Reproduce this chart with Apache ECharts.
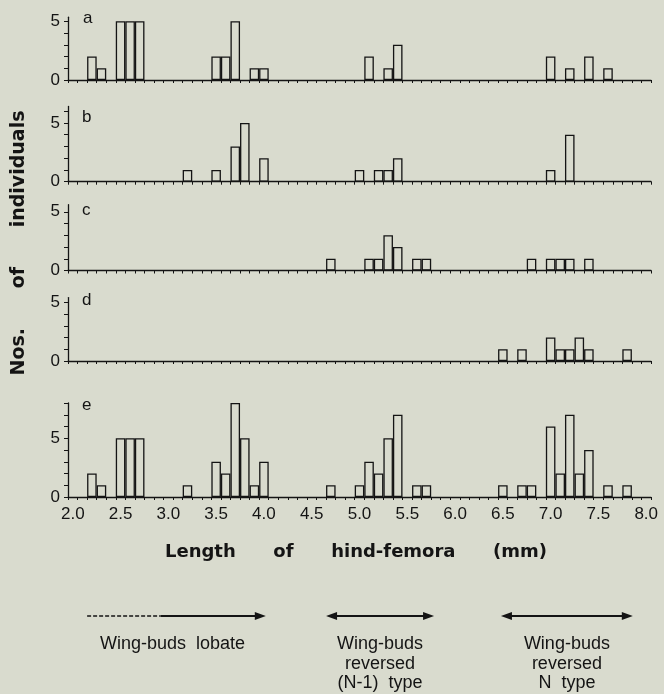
<!DOCTYPE html>
<html><head><meta charset="utf-8">
<script src="https://cdn.jsdelivr.net/npm/echarts@6/dist/echarts.min.js"></script>
<style>html,body{margin:0;padding:0;background:#d9dbce}#c{width:664px;height:694px}</style>
</head><body><div id="c"></div>
<script>
// ---- data ----
const lengths = [];
for (let i = 0; i <= 60; i++) lengths.push((2 + i / 10).toFixed(1));
const tickLabels = ['2.0','2.5','3.0','3.5','4.0','4.5','5.0','5.5','6.0','6.5','7.0','7.5','8.0'];
const panelNames = ['a','b','c','d','e'];
const countsA = [[2.2,2],[2.3,1],[2.5,5],[2.6,5],[2.7,5],[3.5,2],[3.6,2],[3.7,5],[3.9,1],[4.0,1],[5.1,2],[5.3,1],[5.4,3],[7.0,2],[7.2,1],[7.4,2],[7.6,1]];
const countsB = [[3.2,1],[3.5,1],[3.7,3],[3.8,5],[4.0,2],[5.0,1],[5.2,1],[5.3,1],[5.4,2],[7.0,1],[7.2,4]];
const countsC = [[4.7,1],[5.1,1],[5.2,1],[5.3,3],[5.4,2],[5.6,1],[5.7,1],[6.8,1],[7.0,1],[7.1,1],[7.2,1],[7.4,1]];
const countsD = [[6.5,1],[6.7,1],[7.0,2],[7.1,1],[7.2,1],[7.3,2],[7.4,1],[7.8,1]];
const countsE = [[2.2,2],[2.3,1],[2.5,5],[2.6,5],[2.7,5],[3.2,1],[3.5,3],[3.6,2],[3.7,8],[3.8,5],[3.9,1],[4.0,3],[4.7,1],[5.0,1],[5.1,3],[5.2,2],[5.3,5],[5.4,7],[5.6,1],[5.7,1],[6.5,1],[6.7,1],[6.8,1],[7.0,6],[7.1,2],[7.2,7],[7.3,2],[7.4,4],[7.6,1],[7.8,1]];
const yLabelValues = [0, 5];
const yMaxes = [5.35, 6.4, 5.6, 5.4, 8];
const xTitle = 'Length      of      hind-femora      (mm)';
const yTitle = 'Nos.      of      individuals';
// annotation ranges in mm
const lobateRange = [2.15, 2.92, 4.02];
const n1Range = [4.65, 5.78];
const nRange = [6.48, 7.86];
const lobateText = 'Wing-buds  lobate';
const n1Text = ['Wing-buds', 'reversed', '(N-1)  type'];
const nText = ['Wing-buds', 'reversed', 'N  type'];

// ---- layout ----
const INK = '#141414';
const FONT = 'Liberation Sans, Arial, sans-serif';
const TFONT = 'DejaVu Sans, Verdana, sans-serif';
const gridLeft = 68, gridWidth = 583;
const bottoms = [80, 181.7, 270.5, 361, 497];
const unitPx = 11.75;
const allCounts = [countsA, countsB, countsC, countsD, countsE];

const chart = echarts.init(document.getElementById('c'), null, {renderer: 'canvas'});

const grids = [], xAxes = [], yAxes = [], series = [];
allCounts.forEach((counts, i) => {
  const h = yMaxes[i] * unitPx;
  grids.push({left: gridLeft, width: gridWidth, top: bottoms[i] - h, height: h});
  const arr = lengths.map(() => '-');
  counts.forEach(([x, n]) => { arr[lengths.indexOf(x.toFixed(1))] = n; });
  xAxes.push({
    type: 'category', gridIndex: i, data: lengths, boundaryGap: true,
    axisLine: {show: true, lineStyle: {color: INK, width: 1.3}},
    axisTick: {show: true, interval: 0, length: 3, lineStyle: {color: INK, width: 1}},
    axisLabel: {show: i === 4, interval: 4, color: INK, fontSize: 17, fontFamily: FONT, margin: 9,
      formatter: v => tickLabels.includes(v) ? v : ''},
    splitLine: {show: false}
  });
  const tickVals = [];
  for (let t = 0; t <= Math.floor(yMaxes[i]); t++) tickVals.push(t);
  yAxes.push({
    type: 'value', gridIndex: i, min: 0, max: yMaxes[i], interval: 1,
    axisLine: {show: true, lineStyle: {color: INK, width: 1.3}},
    axisTick: {show: true, length: 4, customValues: tickVals, lineStyle: {color: INK, width: 1}},
    axisLabel: {show: true, customValues: yLabelValues, color: INK, fontSize: 17, fontFamily: FONT, margin: 8},
    splitLine: {show: false}
  });
  series.push({
    type: 'bar', xAxisIndex: i, yAxisIndex: i, data: arr,
    barCategoryGap: '0%', silent: true,
    itemStyle: {color: 'rgba(0,0,0,0)', borderColor: INK, borderWidth: 1.3}
  });
});

const px = v => gridLeft + (v - 1.95) / 6.1 * gridWidth;
const graphics = [];
const letterPos = [[88, 20], [87, 119], [87, 212], [87, 302], [87, 407]];
panelNames.forEach((n, i) => graphics.push({type: 'text', left: letterPos[i][0] - 5, top: letterPos[i][1] - 10,
  style: {text: n, font: '17px ' + FONT, fill: INK}}));
graphics.push({type: 'text', x: 19, y: 243, rotation: Math.PI / 2,
  style: {text: yTitle, font: 'bold 19px ' + TFONT, fill: INK, align: 'center', verticalAlign: 'middle'}});
graphics.push({type: 'text', x: 356, y: 552,
  style: {text: xTitle, font: 'bold 18px ' + TFONT, fill: INK, align: 'center', verticalAlign: 'middle'}});

const arrowY = 616;
function head(x, dir) {
  return {type: 'polygon', shape: {points: [[x, arrowY], [x - dir * 11, arrowY - 4], [x - dir * 11, arrowY + 4]]}, style: {fill: INK}};
}
graphics.push({type: 'line', shape: {x1: px(lobateRange[0]), y1: arrowY, x2: px(lobateRange[1]), y2: arrowY}, style: {stroke: INK, lineWidth: 1.5, lineDash: [4, 2]}});
graphics.push({type: 'line', shape: {x1: px(lobateRange[1]), y1: arrowY, x2: px(lobateRange[2]) - 8, y2: arrowY}, style: {stroke: INK, lineWidth: 2}});
graphics.push(head(px(lobateRange[2]), 1));
[n1Range, nRange].forEach(r => {
  graphics.push({type: 'line', shape: {x1: px(r[0]) + 8, y1: arrowY, x2: px(r[1]) - 8, y2: arrowY}, style: {stroke: INK, lineWidth: 2}});
  graphics.push(head(px(r[0]), -1));
  graphics.push(head(px(r[1]), 1));
});
const lineYs = [644, 664, 683];
graphics.push({type: 'text', x: px((lobateRange[0] + lobateRange[2]) / 2) - 4, y: lineYs[0],
  style: {text: lobateText, font: '18px ' + FONT, fill: INK, align: 'center', verticalAlign: 'middle'}});
[[n1Range, n1Text], [nRange, nText]].forEach(([r, lines]) => {
  lines.forEach((t, k) => graphics.push({type: 'text', x: px((r[0] + r[1]) / 2), y: lineYs[k],
    style: {text: t, font: '18px ' + FONT, fill: INK, align: 'center', verticalAlign: 'middle'}}));
});

chart.setOption({
  backgroundColor: '#d9dbce',
  animation: false,
  grid: grids, xAxis: xAxes, yAxis: yAxes, series: series,
  graphic: graphics
});
</script></body></html>
